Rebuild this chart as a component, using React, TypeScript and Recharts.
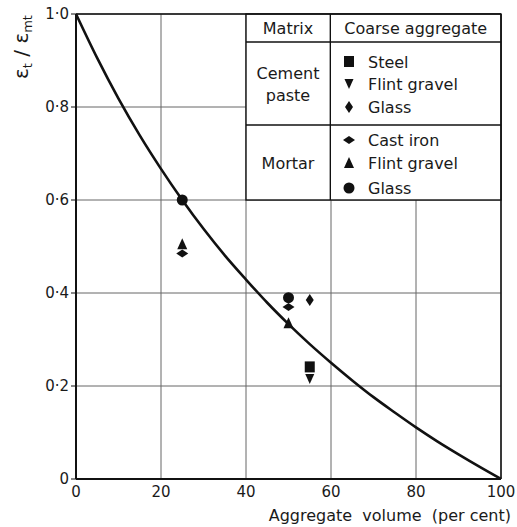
import React from "react";
import {
  ComposedChart,
  Line,
  Scatter,
  XAxis,
  YAxis,
  CartesianGrid,
  ReferenceArea,
  ReferenceLine,
} from "recharts";

// Curve
const curveX = [0, 5, 10, 15, 20, 25, 30, 35, 40, 45, 50, 55, 60, 65, 70, 75, 80, 85, 90, 95, 100];
const curveY = [1.0, 0.905, 0.818, 0.739, 0.667, 0.6, 0.538, 0.481, 0.429, 0.379, 0.333, 0.29, 0.25, 0.212, 0.176, 0.143, 0.111, 0.081, 0.053, 0.026, 0];

// Measured points
const pasteSteel = [{ x: 55, y: 0.24 }];
const pasteFlint = [{ x: 55, y: 0.215 }];
const pasteGlass = [{ x: 55, y: 0.385 }];
const mortarCastIron = [{ x: 25, y: 0.485 }, { x: 50, y: 0.37 }];
const mortarFlint = [{ x: 25, y: 0.505 }, { x: 50, y: 0.335 }];
const mortarGlass = [{ x: 25, y: 0.6 }, { x: 50, y: 0.39 }];

const xTicks = [0, 20, 40, 60, 80, 100];
const yTicks = [0, 0.2, 0.4, 0.6, 0.8, 1.0];
const yTickLabels = ["0", "0·2", "0·4", "0·6", "0·8", "1·0"];

const curveData = curveX.map((x, i) => ({ x, y: curveY[i] }));

const INK = "#111";
const TXT = "#1a1a1a";
const FONT = "DejaVu Sans";

const Square = ({ cx, cy }: any) => <rect x={cx - 5} y={cy - 6} width={10} height={11} fill={INK} />;
const InvTri = ({ cx, cy }: any) => (
  <polygon points={`${cx - 4.5},${cy - 5} ${cx + 4.5},${cy - 5} ${cx},${cy + 5}`} fill={INK} />
);
const VDiamond = ({ cx, cy }: any) => (
  <polygon points={`${cx},${cy - 6} ${cx + 4},${cy} ${cx},${cy + 6} ${cx - 4},${cy}`} fill={INK} />
);
const HDiamond = ({ cx, cy }: any) => (
  <polygon points={`${cx - 6},${cy} ${cx},${cy - 4} ${cx + 6},${cy} ${cx},${cy + 4}`} fill={INK} />
);
const Tri = ({ cx, cy }: any) => (
  <polygon points={`${cx},${cy - 6} ${cx + 5},${cy + 5} ${cx - 5},${cy + 5}`} fill={INK} />
);
const Circ = ({ cx, cy }: any) => <circle cx={cx} cy={cy} r={5.5} fill={INK} />;

const TableShape = (props: any) => {
  const { x, y, width, height } = props;
  const colX = x + width * (84 / 254);
  const headY = y + 28;
  const rowY = y + 111;
  const mx = x + 42;
  const sx = x + 103;
  const tx = x + 122;
  const ts: any = { fontFamily: FONT, fontSize: 16, fill: TXT };
  const items = [
    { S: Square, label: "Steel", cy: y + 48 },
    { S: InvTri, label: "Flint gravel", cy: y + 70 },
    { S: VDiamond, label: "Glass", cy: y + 93 },
    { S: HDiamond, label: "Cast iron", cy: y + 126 },
    { S: Tri, label: "Flint gravel", cy: y + 149 },
    { S: Circ, label: "Glass", cy: y + 174 },
  ];
  return (
    <g>
      <rect x={x} y={y} width={width} height={height} fill="#fff" stroke={INK} strokeWidth={1.4} />
      <line x1={colX} y1={y} x2={colX} y2={y + height} stroke={INK} strokeWidth={1.4} />
      <line x1={x} y1={headY} x2={x + width} y2={headY} stroke={INK} strokeWidth={1.4} />
      <line x1={x} y1={rowY} x2={x + width} y2={rowY} stroke={INK} strokeWidth={1.4} />
      <text x={mx} y={y + 20} textAnchor="middle" {...ts}>Matrix</text>
      <text x={(colX + x + width) / 2} y={y + 20} textAnchor="middle" {...ts}>Coarse aggregate</text>
      <text x={mx} y={y + 65} textAnchor="middle" {...ts}>Cement</text>
      <text x={mx} y={y + 87} textAnchor="middle" {...ts}>paste</text>
      <text x={mx} y={y + 155} textAnchor="middle" {...ts}>Mortar</text>
      {items.map((it, i) => (
        <g key={i}>
          <it.S cx={sx} cy={it.cy} />
          <text x={tx} y={it.cy + 6} {...ts}>{it.label}</text>
        </g>
      ))}
    </g>
  );
};

export default function App() {
  return (
    <div style={{ position: "absolute", left: 0, top: 0, background: "#fff" }}>
      <ComposedChart
        width={517}
        height={527}
        data={curveData}
        margin={{ top: 14, right: 16, bottom: 18, left: 0 }}
      >
        <CartesianGrid stroke="#666" strokeWidth={1} vertical horizontal />
        <XAxis
          dataKey="x"
          type="number"
          domain={[0, 100]}
          ticks={xTicks}
          height={30}
          tickLine={false}
          tickSize={0}
          tickMargin={7}
          axisLine={{ stroke: INK, strokeWidth: 2 }}
          tick={{ fontFamily: FONT, fontSize: 15, fill: TXT }}
          label={{
            content: () => (
              <text x={511} y={521} textAnchor="end" fontFamily={FONT} fontSize={16} fill={TXT} style={{ whiteSpace: "pre" }}>
                Aggregate  volume  (per cent)
              </text>
            ),
          }}
        />
        <YAxis
          type="number"
          domain={[0, 1]}
          ticks={yTicks}
          width={76}
          tickSize={5}
          tickMargin={2}
          tickLine={{ stroke: INK }}
          axisLine={{ stroke: INK, strokeWidth: 2 }}
          tickFormatter={(v: number) => yTickLabels[yTicks.indexOf(v)] ?? String(v)}
          tick={{ fontFamily: FONT, fontSize: 15, fill: TXT }}
          label={{
            content: () => (
              <text
                x={28}
                y={47}
                transform="rotate(-90, 28, 47)"
                textAnchor="middle"
                fontFamily={FONT}
                fontSize={20}
                fill={TXT}
              >
                <tspan>ε</tspan>
                <tspan fontSize={13} dy={4}>t</tspan>
                <tspan dy={-4}> / </tspan>
                <tspan>ε</tspan>
                <tspan fontSize={13} dy={4}>mt</tspan>
              </text>
            ),
          }}
        />
        <ReferenceLine y={1} stroke={INK} strokeWidth={1.5} />
        <ReferenceLine x={100} stroke={INK} strokeWidth={1.5} />
        <ReferenceArea x1={40} x2={100} y1={0.6} y2={1} shape={TableShape} />
        <Line
          dataKey="y"
          type="monotone"
          stroke={INK}
          strokeWidth={2.6}
          dot={false}
          isAnimationActive={false}
        />
        <Scatter data={pasteSteel} dataKey="y" shape={Square} isAnimationActive={false} />
        <Scatter data={pasteFlint} dataKey="y" shape={InvTri} isAnimationActive={false} />
        <Scatter data={pasteGlass} dataKey="y" shape={VDiamond} isAnimationActive={false} />
        <Scatter data={mortarCastIron} dataKey="y" shape={HDiamond} isAnimationActive={false} />
        <Scatter data={mortarFlint} dataKey="y" shape={Tri} isAnimationActive={false} />
        <Scatter data={mortarGlass} dataKey="y" shape={Circ} isAnimationActive={false} />
      </ComposedChart>
    </div>
  );
}
